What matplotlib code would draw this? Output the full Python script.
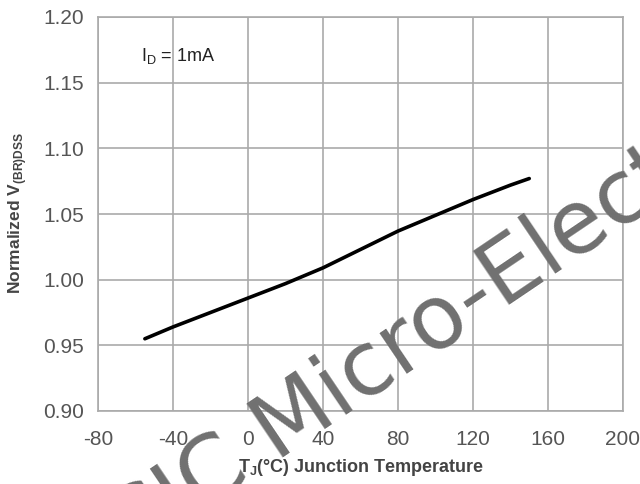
import matplotlib
matplotlib.use("Agg")
import matplotlib.pyplot as plt

# Data
temperature = [-55, -40, -20, 0, 20, 40, 60, 80, 100, 120, 140, 150]
norm_vbr = [0.955, 0.964, 0.975, 0.986, 0.997, 1.009, 1.023, 1.037, 1.049, 1.061, 1.072, 1.077]
x_ticks = [-80, -40, 0, 40, 80, 120, 160, 200]
y_ticks = [0.90, 0.95, 1.00, 1.05, 1.10, 1.15, 1.20]

plt.rcParams['font.family'] = ['Liberation Sans', 'DejaVu Sans']
plt.rcParams['mathtext.fontset'] = 'custom'
plt.rcParams['mathtext.rm'] = 'Liberation Sans'
plt.rcParams['mathtext.bf'] = 'Liberation Sans:bold'

W, H = 640, 484
fig = plt.figure(figsize=(6.4, 4.84), dpi=100)
ax = fig.add_axes([98/W, 1-411/H, (623-98)/W, (411-17)/H])

ax.plot(temperature, norm_vbr, color='black', lw=2.6, solid_capstyle='round', zorder=3)

ax.set_xlim(-80, 200)
ax.set_ylim(0.90, 1.20)
ax.set_xticks(x_ticks)
ax.set_yticks(y_ticks)
ax.set_xticklabels([f"{t}" for t in x_ticks])
ax.set_yticklabels([f"{t:.2f}" for t in y_ticks])
ax.tick_params(length=0, labelsize=15, colors='#555555')
ax.tick_params(axis='y', pad=10)
ax.tick_params(axis='x', pad=14)
ax.grid(True, color='#aaaaaa', lw=1.2)
for s in ax.spines.values():
    s.set_color('#aaaaaa')
    s.set_linewidth(1.2)

ax.text(-57, 1.1705, r'I$_{\mathrm{D}}$ = 1mA', fontsize=13, color='#222222',
        ha='left', va='center')

fig.text(18/W, 1-213/H, r'Normalized V$_{\mathbf{(BR)DSS}}$', rotation=90,
         fontsize=12.5, fontweight='bold', color='#444444', ha='center', va='center')
fig.text(361/W, 1-467/H, r'T$_{\mathbf{J}}$(°C) Junction Temperature', fontsize=13,
         fontweight='bold', color='#444444', ha='center', va='center')

fig.text(128/W, 1-562/H, 'CJC Micro-Electronics', rotation=34, rotation_mode='anchor',
         fontsize=64, family='DejaVu Sans', color='#707070', ha='left', va='baseline',
         zorder=10)

fig.savefig('out.png', dpi=100)
